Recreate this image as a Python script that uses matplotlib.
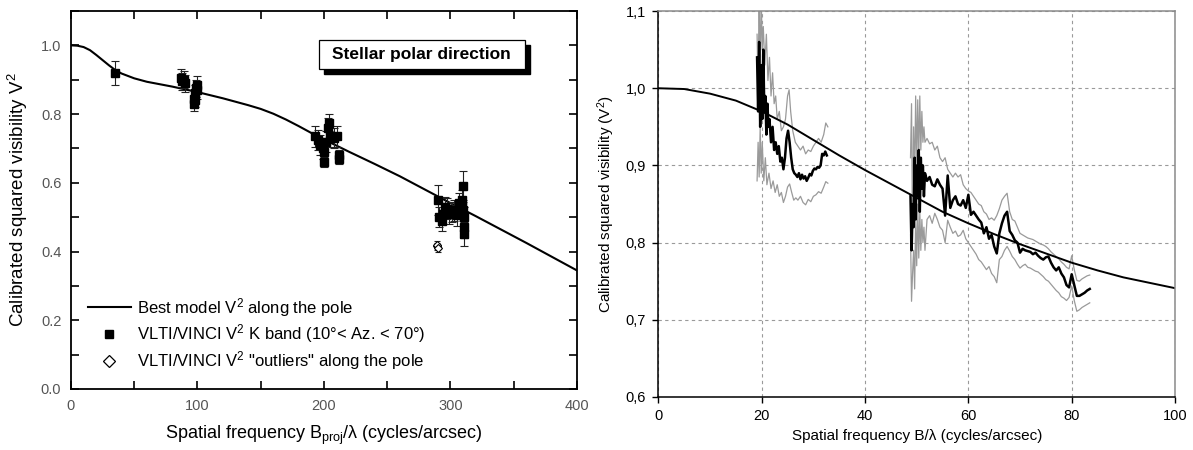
import numpy as np
import matplotlib
matplotlib.use("Agg")
import matplotlib.pyplot as plt
from matplotlib.lines import Line2D
from matplotlib.patches import Rectangle
from matplotlib.ticker import MultipleLocator, FormatStrFormatter, FuncFormatter

plt.rcParams["font.family"] = ["Liberation Sans", "DejaVu Sans"]
plt.rcParams["mathtext.fontset"] = "custom"
plt.rcParams["mathtext.rm"] = "Liberation Sans"
plt.rcParams["mathtext.it"] = "Liberation Sans:italic"

# ---- left panel: model + VLTI/VINCI points ----
model_l_x = [0, 5, 10, 15, 20, 25, 30, 35, 40, 50, 60, 80, 100, 120, 140, 150, 160, 170,
             180, 190, 200, 220, 240, 260, 280, 300, 320, 340, 360, 380, 400]
model_l_y = [1.0, 0.999, 0.995, 0.986, 0.972, 0.957, 0.942, 0.928, 0.918, 0.904, 0.894,
             0.88, 0.864, 0.846, 0.826, 0.815, 0.801, 0.784, 0.765, 0.745, 0.726, 0.69,
             0.655, 0.619, 0.58, 0.541, 0.503, 0.464, 0.425, 0.385, 0.345]

pts_x = [35, 87, 88, 89, 90, 97, 97.5, 98, 98, 99, 100, 100,
         193, 195, 197, 199, 200, 200, 202, 203, 204, 205, 208, 210, 212, 212,
         290, 291, 293, 294, 296, 297, 299, 301, 303, 305, 307, 309, 309, 310,
         310, 311, 311, 311]
pts_y = [0.92, 0.905, 0.895, 0.90, 0.89, 0.83, 0.845, 0.86, 0.84, 0.875, 0.885, 0.87,
         0.735, 0.725, 0.71, 0.70, 0.66, 0.69, 0.72, 0.76, 0.775, 0.735, 0.73, 0.735, 0.67, 0.68,
         0.55, 0.50, 0.49, 0.51, 0.53, 0.525, 0.51, 0.515, 0.52, 0.505, 0.54, 0.55, 0.53, 0.59,
         0.52, 0.50, 0.47, 0.45]
pts_err = [0.035, 0.025, 0.025, 0.025, 0.025, 0.02, 0.025, 0.025, 0.02, 0.025, 0.025, 0.025,
           0.03, 0.03, 0.03, 0.03, 0.015, 0.03, 0.03, 0.03, 0.025, 0.03, 0.03, 0.03, 0.015, 0.015,
           0.045, 0.03, 0.03, 0.03, 0.03, 0.03, 0.03, 0.03, 0.03, 0.03, 0.03, 0.03, 0.03, 0.045,
           0.03, 0.03, 0.03, 0.035]

out_x = [289, 289.5, 290]
out_y = [0.415, 0.42, 0.41]
out_err = [0.01, 0.01, 0.01]

# ---- right panel: model + averaged V2 traces with envelopes ----
model_r_x = [0, 5, 10, 15, 20, 25, 30, 35, 40, 45, 50, 55, 60, 65, 70, 75, 80, 85, 90, 95, 100]
model_r_y = [1.0, 0.999, 0.993, 0.984, 0.97, 0.953, 0.933, 0.913, 0.894, 0.876, 0.858,
             0.84, 0.825, 0.811, 0.798, 0.786, 0.774, 0.764, 0.755, 0.748, 0.741]

seg1_x = [19.1, 19.3, 19.5, 19.7, 19.9, 20.1, 20.3, 20.5, 20.7, 20.9, 21.1, 21.3, 21.5,
          21.8, 22.1, 22.4, 22.7, 23.0, 23.3, 23.6, 23.9, 24.2, 24.5, 24.8, 25.1, 25.4,
          25.7, 26.0, 26.3, 26.6, 26.9, 27.2, 27.5, 27.8, 28.1, 28.4, 28.7, 29.0, 29.3,
          29.6, 29.9, 30.2, 30.5, 30.8, 31.1, 31.4, 31.7, 32.0, 32.3, 32.6]
seg1_v = [1.04, 0.97, 1.06, 0.95, 1.03, 0.96, 1.05, 0.97, 0.99, 0.94, 0.98, 0.95, 0.96,
          0.93, 0.95, 0.92, 0.93, 0.915, 0.925, 0.905, 0.91, 0.895, 0.91, 0.935, 0.945, 0.93,
          0.91, 0.895, 0.89, 0.888, 0.885, 0.89, 0.882, 0.888, 0.883, 0.886, 0.880, 0.884, 0.889,
          0.887, 0.893, 0.896, 0.895, 0.898, 0.897, 0.900, 0.915, 0.913, 0.918, 0.913]

seg1_hi_x = [19.1, 19.3, 19.5, 19.7, 19.9, 20.1, 20.3, 20.6, 20.9, 21.2, 21.5, 21.8, 22.1,
             22.4, 22.7, 23.0, 23.4, 23.8, 24.2, 24.6, 25.0, 25.3, 25.6, 26.0, 26.5, 27.0,
             27.5, 28.0, 28.5, 29.0, 29.5, 30.0, 30.5, 31.0, 31.5, 32.0, 32.4, 32.8]
seg1_hi = [1.07, 1.0, 1.12, 1.02, 1.12, 1.05, 1.08, 1.03, 1.07, 1.01, 1.04, 0.99, 1.02,
           0.98, 0.99, 0.96, 0.97, 0.945, 0.95, 0.96, 0.99, 0.998, 0.97, 0.945, 0.93, 0.925,
           0.92, 0.925, 0.915, 0.92, 0.918, 0.925, 0.93, 0.935, 0.93, 0.94, 0.955, 0.95]

seg1_lo_x = [19.1, 19.3, 19.5, 19.7, 19.9, 20.1, 20.4, 20.7, 21.0, 21.4, 21.8, 22.2, 22.6,
             23.0, 23.4, 23.8, 24.2, 24.6, 25.0, 25.4, 25.8, 26.2, 26.6, 27.0, 27.5, 28.0,
             28.5, 29.0, 29.5, 30.0, 30.5, 31.0, 31.5, 32.0, 32.4, 32.8]
seg1_lo = [0.88, 0.93, 0.885, 0.95, 0.89, 0.93, 0.88, 0.91, 0.875, 0.89, 0.87, 0.88, 0.865,
           0.875, 0.86, 0.865, 0.852, 0.86, 0.872, 0.876, 0.865, 0.855, 0.858, 0.855, 0.86, 0.852,
           0.849, 0.856, 0.853, 0.86, 0.862, 0.866, 0.864, 0.872, 0.879, 0.877]

seg2_x = [48.8, 49.0, 49.2, 49.4, 49.6, 49.8, 50.0, 50.2, 50.4, 50.6, 50.8, 51.0, 51.2, 51.4, 51.6,
          52.0, 52.5, 53.0, 53.5, 54.0, 54.5, 55.0, 55.5, 56.0, 56.5, 57.0, 57.5, 58.0, 58.5,
          59.0, 59.5, 60.0, 60.5, 61.0, 61.5, 62.0, 62.5, 63.0, 63.5, 64.0, 64.5, 65.0, 65.5,
          66.0, 66.5, 67.0, 67.5, 68.0, 68.5, 69.0, 69.5, 70.0, 70.5, 71.0, 71.5, 72.0, 72.5,
          73.0, 73.5, 74.0, 74.5, 75.0, 75.5, 76.0, 76.5, 77.0, 77.5, 78.0, 78.5, 79.0, 79.5,
          80.0, 80.5, 81.0, 81.5, 82.0, 82.5, 83.0, 83.5]
seg2_v = [0.86, 0.79, 0.85, 0.82, 0.91, 0.83, 0.90, 0.86, 0.92, 0.84, 0.91, 0.87, 0.90, 0.86, 0.89,
          0.88, 0.885, 0.875, 0.873, 0.882, 0.875, 0.87, 0.835, 0.887, 0.845, 0.855, 0.86, 0.85, 0.848,
          0.855, 0.845, 0.862, 0.836, 0.84, 0.835, 0.83, 0.826, 0.812, 0.82, 0.805, 0.81, 0.795, 0.786,
          0.812, 0.825, 0.835, 0.84, 0.815, 0.81, 0.803, 0.80, 0.787, 0.792, 0.79, 0.789, 0.788, 0.785,
          0.787, 0.783, 0.78, 0.778, 0.781, 0.782, 0.774, 0.768, 0.764, 0.768, 0.76, 0.755, 0.745, 0.742,
          0.759, 0.745, 0.731, 0.731, 0.733, 0.735, 0.738, 0.74]
seg2_hi = [0.91, 0.98, 0.80, 0.95, 0.88, 0.99, 0.90, 0.985, 0.91, 0.99, 0.92, 0.97, 0.93, 0.95, 0.93,
           0.935, 0.928, 0.93, 0.92, 0.925, 0.91, 0.905, 0.91, 0.895, 0.89, 0.885, 0.89, 0.885, 0.888,
           0.875, 0.87, 0.867, 0.865, 0.86, 0.855, 0.85, 0.848, 0.84, 0.837, 0.83, 0.832, 0.829, 0.835,
           0.844, 0.855, 0.86, 0.864, 0.84, 0.83, 0.828, 0.82, 0.812, 0.81, 0.808, 0.806, 0.805, 0.804,
           0.802, 0.80, 0.798, 0.797, 0.795, 0.792, 0.788, 0.785, 0.782, 0.779, 0.775, 0.772, 0.768, 0.766,
           0.783, 0.765, 0.751, 0.75, 0.753, 0.755, 0.757, 0.758]
seg2_lo = [0.81, 0.724, 0.76, 0.79, 0.74, 0.83, 0.77, 0.85, 0.78, 0.84, 0.79, 0.83, 0.80, 0.82, 0.79,
           0.83, 0.835, 0.825, 0.838, 0.83, 0.82, 0.816, 0.80, 0.829, 0.82, 0.812, 0.815, 0.808, 0.81,
           0.816, 0.805, 0.80, 0.795, 0.79, 0.785, 0.778, 0.775, 0.77, 0.765, 0.769, 0.76, 0.756, 0.748,
           0.778, 0.782, 0.79, 0.795, 0.789, 0.782, 0.778, 0.772, 0.767, 0.77, 0.772, 0.768, 0.767, 0.765,
           0.763, 0.762, 0.759, 0.756, 0.752, 0.75, 0.746, 0.742, 0.738, 0.735, 0.73, 0.728, 0.725, 0.729,
           0.744, 0.725, 0.711, 0.713, 0.716, 0.718, 0.72, 0.722]

fig = plt.figure(figsize=(11.93, 4.5), dpi=100)

# ================= left panel =================
ax1 = fig.add_axes([0.0595, 0.1356, 0.4241, 0.84])
ax1.plot(model_l_x, model_l_y, color="black", lw=1.5, zorder=2)
ax1.errorbar(pts_x, pts_y, yerr=pts_err, fmt="s", color="black", ms=6,
             ecolor="#222222", elinewidth=0.8, capsize=3, capthick=0.8, zorder=3)
ax1.errorbar(out_x, out_y, yerr=out_err, fmt="D", mfc="white", mec="black", ms=4.5,
             mew=0.8, ecolor="#222222", elinewidth=0.8, capsize=2.5, capthick=0.8, zorder=3)

ax1.set_xlim(0, 400)
ax1.set_ylim(0.0, 1.1)
ax1.xaxis.set_major_locator(MultipleLocator(100))
ax1.xaxis.set_minor_locator(MultipleLocator(50))
ax1.yaxis.set_major_locator(MultipleLocator(0.2))
ax1.yaxis.set_minor_locator(MultipleLocator(0.1))
ax1.yaxis.set_major_formatter(FormatStrFormatter("%.1f"))
ax1.tick_params(which="both", direction="in", top=True, right=True,
                length=6, width=1.2, labelsize=10.5, labelcolor="#555555", pad=7)
for s in ax1.spines.values():
    s.set_linewidth(1.3)
ax1.set_xlabel(r"Spatial frequency B$_{\rm proj}$/λ (cycles/arcsec)", fontsize=13, labelpad=8)
ax1.set_ylabel(r"Calibrated squared visibility V$^2$", fontsize=13.5, labelpad=8)

handles = [
    Line2D([], [], color="black", lw=1.5),
    Line2D([], [], color="black", marker="s", ls="none", ms=6),
    Line2D([], [], color="black", marker="D", mfc="white", ls="none", ms=6, mew=0.9),
]
labels = [
    r"Best model V$^2$ along the pole",
    r"VLTI/VINCI V$^2$ K band (10°< Az. < 70°)",
    r'VLTI/VINCI V$^2$ "outliers" along the pole',
]
ax1.legend(handles, labels, loc="lower left", bbox_to_anchor=(0.033, 0.045),
           frameon=False, fontsize=12, handlelength=2.6, handletextpad=0.35,
           labelspacing=0.22, borderpad=0, borderaxespad=0)

# title box with drop shadow
bx0, by0, bw, bh = 0.490, 0.847, 0.407, 0.076
ax1.add_patch(Rectangle((bx0 + 0.011, by0 - 0.014), bw, bh, transform=ax1.transAxes,
                        facecolor="black", edgecolor="black", zorder=5, clip_on=False))
ax1.add_patch(Rectangle((bx0, by0), bw, bh, transform=ax1.transAxes,
                        facecolor="white", edgecolor="black", lw=0.9, zorder=6, clip_on=False))
ax1.text(bx0 + bw / 2, by0 + bh / 2, "Stellar polar direction", transform=ax1.transAxes,
         ha="center", va="center", fontsize=12.5, fontweight="bold", zorder=7)

# ================= right panel =================
ax2 = fig.add_axes([0.5519, 0.1178, 0.4330, 0.8576])
gray = "#9a9a9a"
ax2.plot(seg1_hi_x, seg1_hi, color=gray, lw=0.9)
ax2.plot(seg1_lo_x, seg1_lo, color=gray, lw=0.9)
ax2.plot(seg2_x, seg2_hi, color=gray, lw=0.9)
ax2.plot(seg2_x, seg2_lo, color=gray, lw=0.9)
ax2.plot(seg1_x, seg1_v, color="black", lw=1.8)
ax2.plot(seg2_x, seg2_v, color="black", lw=1.8)
ax2.plot(model_r_x, model_r_y, color="black", lw=1.4)

ax2.set_xlim(0, 100)
ax2.set_ylim(0.6, 1.1)
ax2.xaxis.set_major_locator(MultipleLocator(20))
ax2.yaxis.set_major_locator(MultipleLocator(0.1))
ax2.yaxis.set_major_formatter(FuncFormatter(lambda v, p: f"{v:.1f}".replace(".", ",")))
ax2.grid(True, color="#9a9a9a", lw=0.8, ls=(0, (3, 3)))
ax2.tick_params(direction="out", length=4, width=1, labelsize=10.5, pad=5)
ax2.spines["left"].set_color("black")
ax2.spines["bottom"].set_color("black")
ax2.spines["top"].set_color("#8a8a8a")
ax2.spines["right"].set_color("#8a8a8a")
for s in ax2.spines.values():
    s.set_linewidth(1.1)
ax2.set_xlabel("Spatial frequency B/λ (cycles/arcsec)", fontsize=11, labelpad=4)
ax2.set_ylabel(r"Calibrated squared visibility (V$^2$)", fontsize=11, labelpad=6)

fig.savefig("out.png", dpi=100)
